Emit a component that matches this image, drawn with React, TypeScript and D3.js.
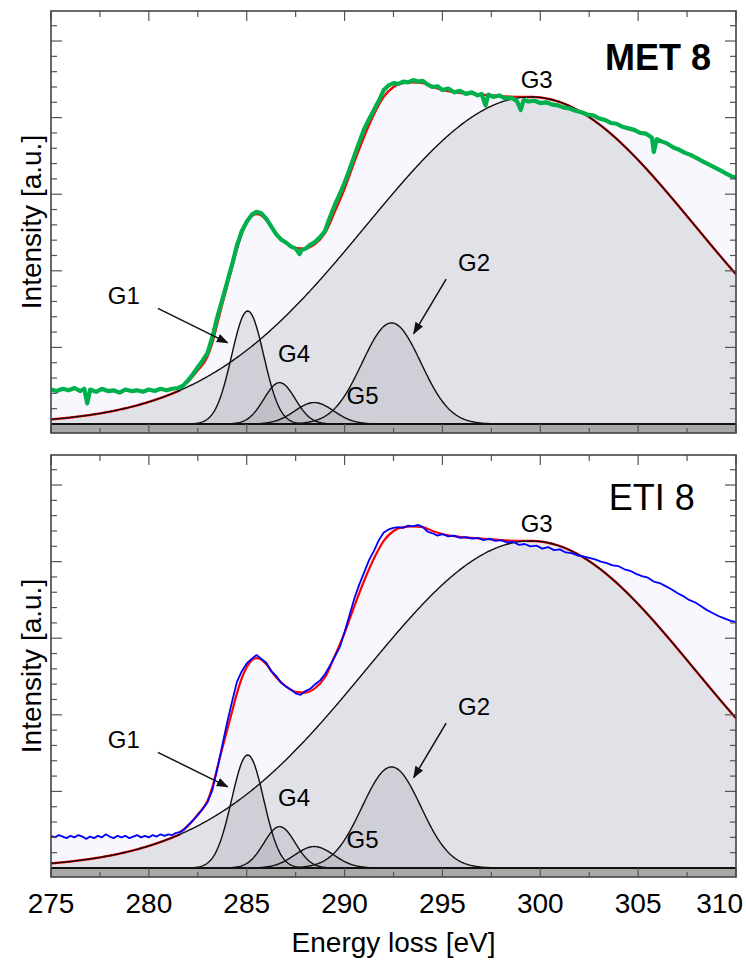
import React from 'react';
import * as d3 from 'd3';

const W = 746;
const H = 962;

// ---- data ----
const xTicks = [275, 280, 285, 290, 295, 300, 305, 310];
const componentNames = ['G1', 'G2', 'G3', 'G4', 'G5'];
const componentCenters = [285.05, 292.4, 299.5, 286.68, 288.45];
const componentHeights = [1.475, 1.32, 4.27, 0.54, 0.28];
const componentWidths = [0.82, 1.5, 8.4, 0.8, 1.0];

// label anchor positions (eV, intensity)
const labelX = [277.9, 295.8, 299.0, 286.6, 290.1];
const labelY = [1.57, 2.0, 4.39, 0.81, 0.26];
// arrows for G1 and G2
const arrowFromX = [280.46, 295.19];
const arrowFromY = [1.51, 1.89];
const arrowToX = [284.03, 293.53];
const arrowToY = [1.06, 1.18];

// fitted envelope inside the edge region (outside it the fit follows G3)
const fitStart = 281.6;
const fitEnd = 299.3;
const fitCurve: [number, number][] = [
  [281.6,0.47],[282.0,0.55],[282.5,0.70],[283.0,0.88],[283.25,1.06],[283.5,1.31],[283.75,1.56],[284.0,1.80],[284.25,2.04],[284.5,2.28],[284.75,2.48],[285.0,2.62],[285.25,2.71],[285.5,2.74],[285.75,2.72],[286.0,2.66],[286.5,2.49],[287.0,2.37],[287.5,2.30],[288.0,2.29],[288.5,2.35],[289.0,2.49],[289.5,2.77],[290.0,3.07],[290.5,3.42],[291.0,3.75],[291.5,4.04],[292.0,4.27],[292.5,4.40],[293.0,4.45],[293.5,4.46],[294.0,4.45],[294.5,4.40],[295.0,4.36],[296.0,4.32],[297.0,4.30],[298.0,4.28],[299.3,4.27]
];

const metSpectrum: [number, number][] = [
  [275.0,0.45],[275.3,0.43],[275.6,0.46],[275.9,0.44],[276.2,0.47],[276.5,0.43],[276.7,0.46],[276.85,0.27],[277.0,0.45],[277.3,0.42],[277.6,0.46],[277.9,0.43],[278.2,0.44],[278.5,0.41],[278.8,0.45],[279.1,0.43],[279.4,0.44],[279.7,0.42],[280.0,0.45],[280.3,0.43],[280.6,0.46],[280.9,0.44],[281.2,0.46],[281.5,0.47],[281.75,0.50],[282.0,0.57],[282.25,0.65],[282.5,0.74],[282.75,0.83],[283.0,0.93],[283.25,1.14],[283.5,1.40],[283.75,1.62],[284.0,1.85],[284.25,2.08],[284.5,2.33],[284.75,2.52],[285.0,2.64],[285.25,2.73],[285.5,2.77],[285.75,2.75],[286.0,2.68],[286.25,2.58],[286.5,2.48],[286.75,2.41],[287.0,2.37],[287.25,2.32],[287.5,2.29],[287.7,2.22],[287.8,2.27],[288.0,2.29],[288.25,2.34],[288.5,2.38],[288.75,2.44],[289.0,2.52],[289.25,2.70],[289.5,2.86],[289.75,3.00],[290.0,3.15],[290.25,3.32],[290.5,3.50],[290.75,3.68],[291.0,3.85],[291.25,3.98],[291.5,4.10],[291.75,4.22],[292.0,4.36],[292.25,4.42],[292.5,4.45],[292.75,4.44],[293.0,4.47],[293.25,4.46],[293.5,4.49],[293.75,4.47],[294.0,4.48],[294.25,4.43],[294.5,4.40],[294.75,4.41],[295.0,4.36],[295.3,4.38],[295.6,4.33],[295.9,4.35],[296.2,4.31],[296.5,4.33],[296.8,4.29],[297.0,4.31],[297.2,4.16],[297.35,4.30],[297.6,4.27],[297.9,4.29],[298.2,4.25],[298.5,4.26],[298.8,4.22],[299.0,4.10],[299.15,4.23],[299.4,4.21],[299.7,4.22],[300.0,4.19],[300.3,4.20],[300.6,4.17],[300.9,4.16],[301.2,4.13],[301.5,4.12],[301.8,4.09],[302.1,4.07],[302.4,4.04],[302.7,4.03],[303.0,3.99],[303.3,3.97],[303.6,3.93],[303.9,3.92],[304.2,3.88],[304.5,3.86],[304.8,3.84],[305.1,3.80],[305.4,3.79],[305.7,3.74],[305.8,3.55],[305.95,3.72],[306.2,3.69],[306.5,3.66],[306.8,3.61],[307.1,3.58],[307.4,3.54],[307.7,3.51],[308.0,3.47],[308.3,3.43],[308.6,3.39],[308.9,3.35],[309.2,3.31],[309.5,3.27],[309.8,3.23],[310.0,3.22]
];

const etiSpectrum: [number, number][] = [
  [275.0,0.42],[275.2,0.40],[275.4,0.43],[275.6,0.41],[275.8,0.39],[276.0,0.42],[276.2,0.40],[276.4,0.43],[276.6,0.41],[276.8,0.38],[277.0,0.41],[277.2,0.39],[277.4,0.42],[277.6,0.40],[277.8,0.44],[278.0,0.41],[278.2,0.39],[278.4,0.42],[278.6,0.40],[278.8,0.42],[279.0,0.39],[279.2,0.41],[279.4,0.43],[279.6,0.40],[279.8,0.42],[280.0,0.40],[280.2,0.43],[280.4,0.41],[280.6,0.44],[280.8,0.42],[281.0,0.44],[281.2,0.43],[281.4,0.46],[281.6,0.47],[281.8,0.50],[282.0,0.56],[282.25,0.62],[282.5,0.69],[282.75,0.77],[283.0,0.86],[283.25,1.02],[283.5,1.30],[283.75,1.60],[284.0,1.90],[284.25,2.17],[284.5,2.43],[284.75,2.57],[285.0,2.67],[285.25,2.73],[285.5,2.78],[285.75,2.73],[286.0,2.68],[286.25,2.57],[286.5,2.51],[286.75,2.42],[287.0,2.37],[287.25,2.33],[287.5,2.28],[287.75,2.26],[288.0,2.31],[288.25,2.34],[288.5,2.40],[288.75,2.45],[289.0,2.53],[289.25,2.64],[289.5,2.76],[289.75,2.88],[290.0,3.08],[290.25,3.30],[290.5,3.52],[290.75,3.70],[291.0,3.86],[291.25,4.02],[291.5,4.14],[291.75,4.28],[292.0,4.38],[292.25,4.42],[292.5,4.44],[292.75,4.45],[293.0,4.44],[293.25,4.47],[293.5,4.46],[293.75,4.48],[294.0,4.45],[294.25,4.39],[294.5,4.37],[294.75,4.34],[295.0,4.36],[295.3,4.33],[295.6,4.34],[295.9,4.31],[296.2,4.32],[296.5,4.30],[296.8,4.31],[297.1,4.28],[297.4,4.30],[297.7,4.27],[298.0,4.28],[298.3,4.25],[298.6,4.26],[298.9,4.22],[299.2,4.23],[299.5,4.20],[299.8,4.21],[300.1,4.17],[300.4,4.19],[300.7,4.15],[301.0,4.16],[301.3,4.12],[301.6,4.11],[301.9,4.08],[302.2,4.07],[302.5,4.05],[302.8,4.03],[303.1,4.00],[303.4,3.98],[303.7,3.95],[304.0,3.94],[304.3,3.90],[304.6,3.88],[304.9,3.84],[305.2,3.81],[305.5,3.79],[305.8,3.74],[306.1,3.72],[306.4,3.68],[306.7,3.64],[307.0,3.59],[307.3,3.55],[307.6,3.50],[307.9,3.47],[308.2,3.42],[308.5,3.37],[308.8,3.33],[309.1,3.29],[309.4,3.26],[309.7,3.23],[310.0,3.21]
];

const FONT = "'Liberation Sans', Arial, Helvetica, sans-serif";

type PanelProps = {
  id: string;
  top: number;
  spectrum: [number, number][];
  title: string;
  titleBold: boolean;
  titleX: number;
  titleY: number;
  lineColor: string;
  lineWidth: number;
  showXLabels: boolean;
};

const LEFT = 51;
const RIGHT = 736;

function Panel(p: PanelProps) {
  const frameTop = p.top;
  const frameBottom = p.top + 422;
  const x = d3.scaleLinear().domain([275, 310]).range([LEFT, RIGHT]);
  const y = d3.scaleLinear().domain([-0.1175, 5.392]).range([frameBottom, frameTop]);

  const grid = d3.range(275, 310.0001, 0.05);
  const comps = componentCenters.map((c, i) =>
    grid.map((e) => [e, componentHeights[i] * Math.exp(-((e - c) ** 2) / (2 * componentWidths[i] ** 2))] as [number, number])
  );
  const g3 = comps[2];
  const g3Left = g3.filter((d) => d[0] <= fitStart + 0.001);
  const g3Right = g3.filter((d) => d[0] >= fitEnd - 0.04);

  const line = d3.line<[number, number]>().x((d) => x(d[0])).y((d) => y(d[1]));
  const smooth = d3.line<[number, number]>().x((d) => x(d[0])).y((d) => y(d[1])).curve(d3.curveMonotoneX);
  const area = d3.area<[number, number]>().x((d) => x(d[0])).y0(y(0)).y1((d) => y(d[1]));

  const majorY = d3.range(1, 6);
  const minorY = d3.range(0.2, 5.39, 0.2).filter((v) => Math.abs(v - Math.round(v)) > 0.01);
  const xMinor = d3.range(277.5, 310, 5);

  const clipId = `clip-${p.id}`;
  const order = [2, 0, 3, 4, 1];
  const tick = '#555';

  return (
    <g>
      <defs>
        <clipPath id={clipId}>
          <rect x={LEFT} y={frameTop} width={RIGHT - LEFT} height={frameBottom - frameTop} />
        </clipPath>
      </defs>
      <rect x={LEFT} y={frameTop} width={RIGHT - LEFT} height={frameBottom - frameTop} fill="#fff" />
      <g clipPath={`url(#${clipId})`}>
        <path d={area(p.spectrum) || ''} fill="#F7F7FD" />
        {order.map((i) => (
          <path key={`a${i}`} d={area(comps[i]) || ''} fill="rgb(120,120,128)" fillOpacity={0.17} />
        ))}
        <path d={line(g3Left) || ''} fill="none" stroke="#ff0000" strokeWidth={2.4} />
        <path d={line(g3Right) || ''} fill="none" stroke="#ff0000" strokeWidth={2.4} />
        <path d={smooth(fitCurve) || ''} fill="none" stroke="#ff0000" strokeWidth={2.2} />
        {order.map((i) => (
          <path key={`l${i}`} d={line(comps[i]) || ''} fill="none" stroke="#111" strokeWidth={1.4} />
        ))}
        <path d={line(p.spectrum) || ''} fill="none" stroke={p.lineColor} strokeWidth={p.lineWidth} strokeLinejoin="round" />
        {/* baseline band */}
        <rect x={LEFT} y={y(0)} width={RIGHT - LEFT} height={frameBottom - y(0)} fill="#A8A8A8" />
        <line x1={LEFT} x2={RIGHT} y1={y(0)} y2={y(0)} stroke="#111" strokeWidth={2} />
      </g>
      {/* y ticks */}
      {majorY.map((v) => (
        <g key={`my${v}`}>
          <line x1={LEFT} x2={LEFT + 11} y1={y(v)} y2={y(v)} stroke={tick} strokeWidth={1.2} />
          <line x1={RIGHT} x2={RIGHT - 11} y1={y(v)} y2={y(v)} stroke={tick} strokeWidth={1.2} />
        </g>
      ))}
      {minorY.map((v) => (
        <g key={`ny${v.toFixed(1)}`}>
          <line x1={LEFT} x2={LEFT + 6} y1={y(v)} y2={y(v)} stroke={tick} strokeWidth={1.2} />
          <line x1={RIGHT} x2={RIGHT - 6} y1={y(v)} y2={y(v)} stroke={tick} strokeWidth={1.2} />
        </g>
      ))}
      {/* x ticks top and bottom */}
      {xTicks.map((t) => (
        <g key={`mx${t}`}>
          <line x1={x(t)} x2={x(t)} y1={frameTop} y2={frameTop + 10} stroke={tick} strokeWidth={1.2} />
          <line x1={x(t)} x2={x(t)} y1={frameBottom} y2={frameBottom - 9} stroke={tick} strokeWidth={1.2} />
        </g>
      ))}
      {xMinor.map((t) => (
        <g key={`nx${t}`}>
          <line x1={x(t)} x2={x(t)} y1={frameTop} y2={frameTop + 6} stroke={tick} strokeWidth={1.2} />
          <line x1={x(t)} x2={x(t)} y1={frameBottom} y2={frameBottom - 5} stroke={tick} strokeWidth={1.2} />
        </g>
      ))}
      <rect x={LEFT} y={frameTop} width={RIGHT - LEFT} height={frameBottom - frameTop} fill="none" stroke="#444" strokeWidth={1.6} />

      {/* component labels */}
      {componentNames.map((n, i) => (
        <text key={n} x={x(labelX[i])} y={y(labelY[i])} fontSize={24} fontFamily={FONT} fill="#000">{n}</text>
      ))}
      {arrowFromX.map((ax, i) => (
        <line key={`ar${i}`} x1={x(ax)} y1={y(arrowFromY[i])} x2={x(arrowToX[i])} y2={y(arrowToY[i])}
          stroke="#111" strokeWidth={1.5} markerEnd="url(#arrowhead)" />
      ))}
      <text x={x(p.titleX)} y={y(p.titleY)} textAnchor="end" fontSize={36} fontWeight={p.titleBold ? 'bold' : 'normal'} fontFamily={FONT} fill="#000">{p.title}</text>

      <text transform={`translate(41,${(frameTop + frameBottom) / 2}) rotate(-90)`} textAnchor="middle" fontSize={28} fontFamily={FONT} fill="#000">Intensity [a.u.]</text>

      {p.showXLabels && xTicks.map((t, i) => (
        <text key={`xl${t}`} x={i === xTicks.length - 1 ? x(t) + 7 : x(t)} y={frameBottom + 36}
          textAnchor={i === xTicks.length - 1 ? 'end' : 'middle'} fontSize={28} fontFamily={FONT} fill="#000">{t}</text>
      ))}
      {p.showXLabels && (
        <text x={(LEFT + RIGHT) / 2} y={frameBottom + 75} textAnchor="middle" fontSize={28} fontFamily={FONT} fill="#000">Energy loss [eV]</text>
      )}
    </g>
  );
}

export default function App() {
  return (
    <svg width={W} height={H} style={{ position: 'absolute', left: 0, top: 0, background: '#fff' }}>
      <defs>
        <marker id="arrowhead" markerUnits="userSpaceOnUse" markerWidth={12} markerHeight={10} refX={11} refY={4.5} orient="auto">
          <path d="M0,0 L12,4.5 L0,9 z" fill="#111" />
        </marker>
      </defs>
      <rect x={0} y={0} width={W} height={H} fill="#fff" />
      <Panel id="met" top={11} spectrum={metSpectrum} title="MET 8" titleBold={true} titleX={308.72} titleY={4.62}
        lineColor="#00B04C" lineWidth={4.2} showXLabels={false} />
      <Panel id="eti" top={455} spectrum={etiSpectrum} title="ETI 8" titleBold={false} titleX={307.9} titleY={4.67}
        lineColor="#0000ff" lineWidth={1.8} showXLabels={true} />
    </svg>
  );
}
